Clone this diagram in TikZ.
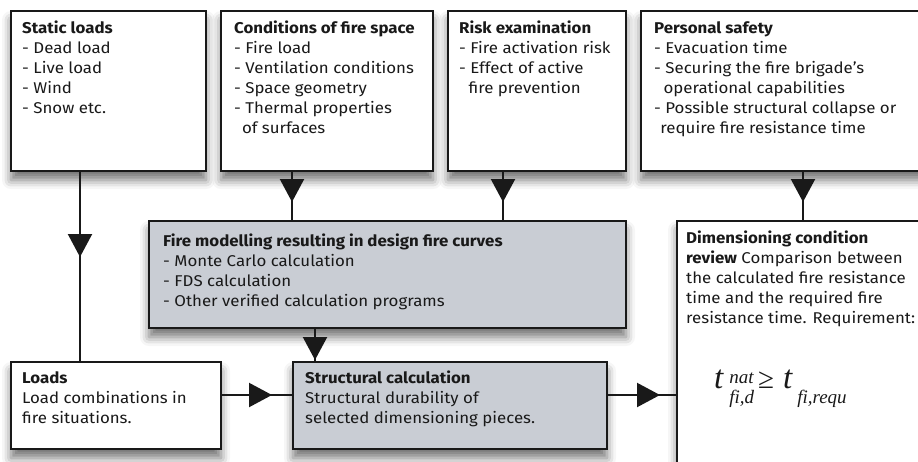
\documentclass[tikz,border=0pt]{standalone}
\usepackage{fontspec}
\setmainfont[FakeStretch=1.08]{Fira Sans}
\newfontfamily\formulafont{Liberation Serif}
\usetikzlibrary{arrows.meta,shadows.blur,decorations.markings}

\definecolor{panelfill}{RGB}{201,205,212}
\definecolor{ink}{RGB}{25,25,25}

\tikzset{
  x=1pt, y=-1pt,
  panel/.style={draw=ink, line width=2pt, fill=white, anchor=north west,
    inner sep=0pt,
    blur shadow={shadow xshift=0pt, shadow yshift=-9pt,
      shadow blur radius=9pt, shadow opacity=55}},
  graypanel/.style={panel, fill=panelfill},
  boxtext/.style={anchor=north west, inner sep=0pt, align=left,
    text=ink, font=\fontsize{15.6}{20}\selectfont},
  link/.style={draw=ink, line width=2.2pt},
  tipat/.style={link, postaction={decorate},
    decoration={markings, mark=at position #1 with
      {\arrow{Triangle[width=24pt,length=23pt]}}}}
}

\begin{document}
\begin{tikzpicture}
\useasboundingbox (0,0) rectangle (918,461);
\clip (0,0) rectangle (918,461);

% input panels along the top
\node[panel, minimum width=195pt, minimum height=160pt] (static) at (10,10) {};
\node[panel, minimum width=212pt, minimum height=160pt] (space) at (220,10) {};
\node[panel, minimum width=178pt, minimum height=160pt] (risk) at (447,10) {};
\node[panel, minimum width=300pt, minimum height=160pt] (safety) at (640,10) {};

% calculation panels
\node[graypanel, minimum width=477pt, minimum height=107pt] (firemod) at (148,220) {};
\node[panel, minimum width=210pt, minimum height=87pt] (loads) at (10,361) {};
\node[graypanel, minimum width=314pt, minimum height=87pt] (struct) at (292,361) {};
\node[panel, minimum width=280pt, minimum height=280pt] (review) at (676,220) {};

% panel texts
\node[boxtext] (statictext) at ([xshift=12pt,yshift=-11pt]static.north west)
  {\textbf{Static loads}\\- Dead load\\- Live load\\- Wind\\- Snow etc.};
\node[boxtext] (spacetext) at ([xshift=14pt,yshift=-11pt]space.north west)
  {\textbf{Conditions of fire space}\\- Fire load\\- Ventilation conditions\\
   - Space geometry\\- Thermal properties\\\hspace*{0.5em}of surfaces};
\node[boxtext] (risktext) at ([xshift=12pt,yshift=-11pt]risk.north west)
  {\textbf{Risk examination}\\- Fire activation risk\\- Effect of active\\
   \hspace*{0.6em}fire prevention};
\node[boxtext] (safetytext) at ([xshift=14pt,yshift=-11pt]safety.north west)
  {\textbf{Personal safety}\\- Evacuation time\\- Securing the fire brigade's\\
   \hspace*{0.6em}operational capabilities\\- Possible structural collapse or\\
   \hspace*{0.4em}require fire resistance time};
\node[boxtext] (firemodtext) at ([xshift=15pt,yshift=-14pt]firemod.north west)
  {\textbf{Fire modelling resulting in design fire curves}\\
   - Monte Carlo calculation\\- FDS calculation\\
   - Other verified calculation programs};
\node[boxtext] (loadstext) at ([xshift=12pt,yshift=-10pt]loads.north west)
  {\textbf{Loads}\\Load combinations in\\fire situations.};
\node[boxtext] (structtext) at ([xshift=13pt,yshift=-10pt]struct.north west)
  {\textbf{Structural calculation}\\Structural durability of\\
   selected dimensioning pieces.};
\node[boxtext] (reviewtext) at ([xshift=10pt,yshift=-11pt]review.north west)
  {\textbf{Dimensioning condition}\\\textbf{review} Comparison between\\
   the calculated fire resistance\\time and the required fire\\
   resistance time. Requirement:};

% requirement formula
\node[anchor=base west, inner sep=0pt, text=ink] (formula) at (714,388)
  {\formulafont\itshape
   \fontsize{33}{33}\selectfont t\kern6pt%
   \fontsize{19}{19}\selectfont
   \rlap{\raisebox{5pt}{nat}}\raisebox{-15pt}{fi,d}\kern4pt%
   {\upshape\fontsize{29}{29}\selectfont\char"2265}\kern9pt%
   \fontsize{33}{33}\selectfont t\kern5pt%
   \fontsize{19}{19}\selectfont\raisebox{-15pt}{fi,requ}};

% connectors
\draw[tipat=85pt] ([xshift=70pt]static.south west)
  -- ([xshift=70pt]static.south west |- loads.north);
\draw[tipat=30pt] ([xshift=72pt]space.south west)
  -- ([xshift=72pt]space.south west |- firemod.north);
\draw[tipat=30pt] ([xshift=56pt]risk.south west)
  -- ([xshift=56pt]risk.south west |- firemod.north);
\draw[tipat=30pt] ([xshift=163pt]safety.south west)
  -- ([xshift=163pt]safety.south west |- review.north);
\draw[tipat=31pt] ([xshift=23pt]struct.north west |- firemod.south)
  -- ([xshift=23pt]struct.north west);
\draw[tipat=50pt] ([yshift=-34pt]loads.north east)
  -- ([yshift=-34pt]loads.north east -| struct.west);
\draw[tipat=52pt] ([yshift=-34pt]struct.north east)
  -- ([yshift=-34pt]struct.north east -| review.west);
\end{tikzpicture}
\end{document}
